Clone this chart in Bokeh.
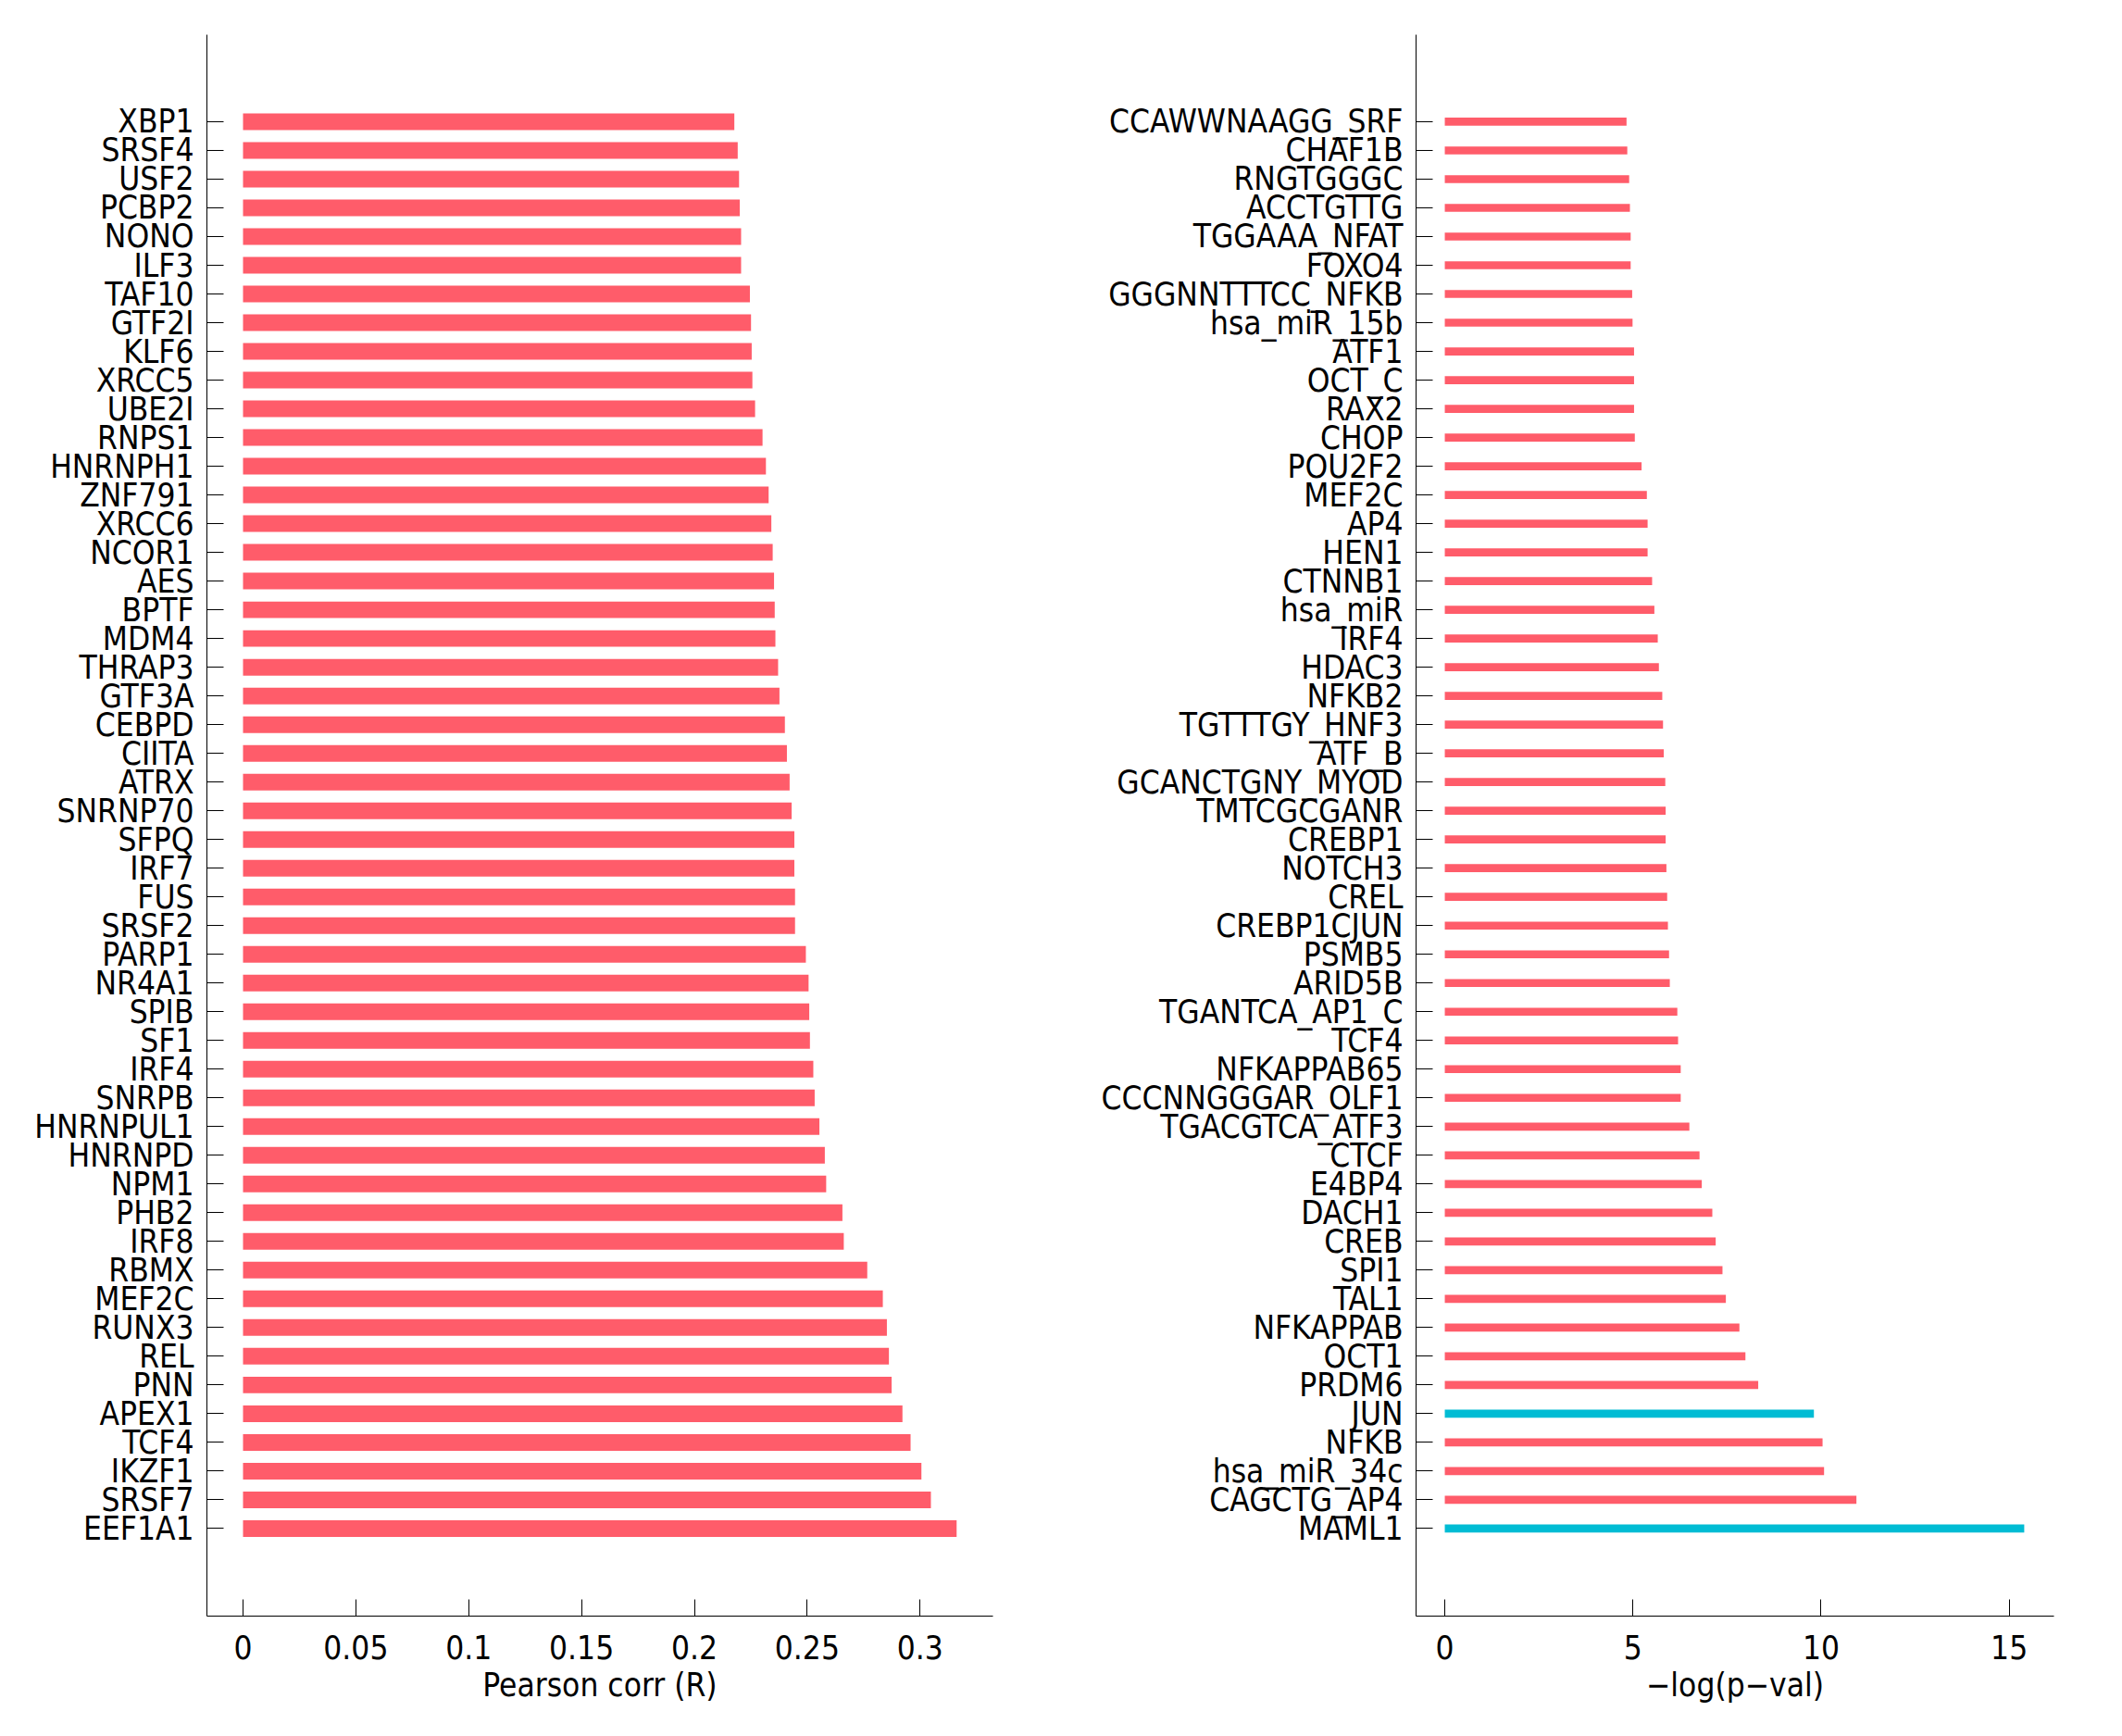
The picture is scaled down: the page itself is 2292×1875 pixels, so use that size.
from bokeh.plotting import figure
from bokeh.layouts import row
from bokeh.models import FixedTicker, ColumnDataSource, Range1d
from bokeh.embed import file_html
from bokeh.resources import INLINE

# ---- data ----
genes = ["XBP1", "SRSF4", "USF2", "PCBP2", "NONO", "ILF3", "TAF10", "GTF2I", "KLF6", "XRCC5",
         "UBE2I", "RNPS1", "HNRNPH1", "ZNF791", "XRCC6", "NCOR1", "AES", "BPTF", "MDM4", "THRAP3",
         "GTF3A", "CEBPD", "CIITA", "ATRX", "SNRNP70", "SFPQ", "IRF7", "FUS", "SRSF2", "PARP1",
         "NR4A1", "SPIB", "SF1", "IRF4", "SNRPB", "HNRNPUL1", "HNRNPD", "NPM1", "PHB2", "IRF8",
         "RBMX", "MEF2C", "RUNX3", "REL", "PNN", "APEX1", "TCF4", "IKZF1", "SRSF7", "EEF1A1"]
pearson_r = [0.2177, 0.2192, 0.2198, 0.2201, 0.2207, 0.2207, 0.2246, 0.2251, 0.2254, 0.2257,
             0.2269, 0.2302, 0.2317, 0.2329, 0.2341, 0.2347, 0.2353, 0.2356, 0.2359, 0.2371,
             0.2377, 0.2401, 0.2410, 0.2422, 0.2431, 0.2443, 0.2443, 0.2446, 0.2446, 0.2494,
             0.2506, 0.2509, 0.2512, 0.2527, 0.2533, 0.2554, 0.2578, 0.2584, 0.2656, 0.2662,
             0.2766, 0.2835, 0.2853, 0.2862, 0.2874, 0.2922, 0.2958, 0.3006, 0.3048, 0.3162]

motifs = ["CCAWWNAAGG_SRF", "CHAF1B", "RNGTGGGC", "ACCTGTTG", "TGGAAA_NFAT", "FOXO4",
          "GGGNNTTTCC_NFKB", "hsa_miR_15b", "ATF1", "OCT_C", "RAX2", "CHOP", "POU2F2", "MEF2C",
          "AP4", "HEN1", "CTNNB1", "hsa_miR", "IRF4", "HDAC3", "NFKB2", "TGTTTGY_HNF3", "ATF_B",
          "GCANCTGNY_MYOD", "TMTCGCGANR", "CREBP1", "NOTCH3", "CREL", "CREBP1CJUN", "PSMB5",
          "ARID5B", "TGANTCA_AP1_C", "TCF4", "NFKAPPAB65", "CCCNNGGGAR_OLF1", "TGACGTCA_ATF3",
          "CTCF", "E4BP4", "DACH1", "CREB", "SPI1", "TAL1", "NFKAPPAB", "OCT1", "PRDM6", "JUN",
          "NFKB", "hsa_miR_34c", "CAGCTG_AP4", "MAML1"]
neglog_p = [4.83, 4.85, 4.90, 4.92, 4.94, 4.94, 4.98, 4.99, 5.03, 5.03, 5.03, 5.05, 5.23, 5.37,
            5.39, 5.39, 5.51, 5.57, 5.66, 5.69, 5.78, 5.80, 5.82, 5.86, 5.87, 5.87, 5.89, 5.91,
            5.93, 5.96, 5.98, 6.18, 6.20, 6.27, 6.27, 6.50, 6.77, 6.83, 7.11, 7.20, 7.38, 7.47,
            7.83, 7.99, 8.33, 9.81, 10.04, 10.08, 10.94, 15.40]
highlighted = ["JUN", "MAML1"]

x_ticks_left = [0, 0.05, 0.1, 0.15, 0.2, 0.25, 0.3]
x_ticks_right = [0, 5, 10, 15]

RED = "#FF5C6A"
TEAL = "#00BCD4"
FONT = "'DejaVu Sans Condensed', 'Liberation Sans Narrow', sans-serif"
FS = "35px"


def style(p, labels, xticks, xlabel):
    n = len(labels)
    p.yaxis.ticker = FixedTicker(ticks=list(range(n)))
    p.yaxis.major_label_overrides = {i: lab for i, lab in enumerate(labels)}
    p.xaxis.ticker = FixedTicker(ticks=xticks)
    p.xaxis.major_label_overrides = {t: ("%g" % t) for t in xticks}
    p.xaxis.axis_label = xlabel
    for ax in (p.xaxis, p.yaxis):
        ax.major_tick_in = 18
        ax.major_tick_out = 0
        ax.minor_tick_line_color = None
        ax.axis_line_color = "black"
        ax.axis_line_width = 1
        ax.major_tick_line_color = "black"
        ax.major_tick_line_width = 1
        ax.major_label_text_font = FONT
        ax.major_label_text_font_size = FS
        ax.major_label_text_color = "black"
        ax.axis_label_text_font = FONT
        ax.axis_label_text_font_size = FS
        ax.axis_label_text_font_style = "normal"
        ax.axis_label_text_color = "black"
    p.yaxis.major_label_standoff = 14
    p.xaxis.major_label_standoff = 20
    p.xaxis.axis_label_standoff = 5
    p.grid.visible = False
    p.outline_line_color = None


# left panel
yl = list(range(len(genes)))
src_l = ColumnDataSource(dict(y=yl, right=pearson_r))
p1 = figure(width=1142, height=1859, output_backend="svg", toolbar_location=None,
            x_range=Range1d(-0.0160, 0.3323), y_range=Range1d(52.05, -3.03),
            min_border_left=223, min_border_right=70, min_border_top=37, min_border_bottom=114)
p1.hbar(y="y", left=0, right="right", height=0.58, source=src_l, color=RED, line_color=None)
style(p1, genes, x_ticks_left, "Pearson corr (R)")

# right panel
yr = list(range(len(motifs)))
cols = [TEAL if m in highlighted else RED for m in motifs]
src_r = ColumnDataSource(dict(y=yr, right=neglog_p, c=cols))
p2 = figure(width=1134, height=1859, output_backend="svg", toolbar_location=None,
            x_range=Range1d(-0.764, 16.19), y_range=Range1d(52.05, -3.03),
            min_border_left=387, min_border_right=58, min_border_top=37, min_border_bottom=114)
p2.hbar(y="y", left=0, right="right", height=0.28, source=src_r, color="c", line_color=None)
style(p2, motifs, x_ticks_right, "\u2212log(p\u2212val)")

layout = row(p1, p2, spacing=0)
open("out.html", "w").write(file_html(layout, INLINE))
